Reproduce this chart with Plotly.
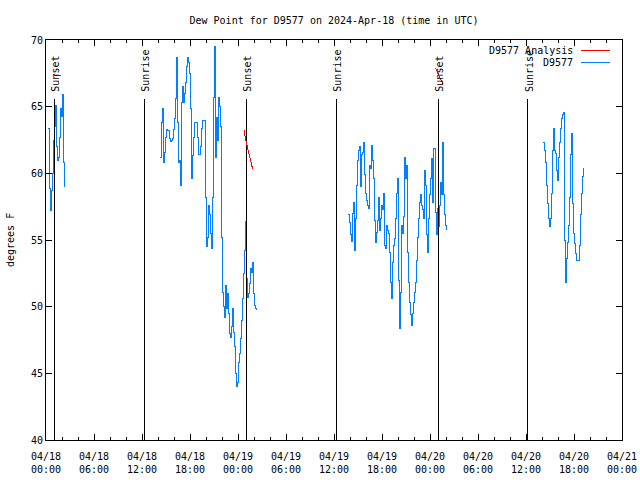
import plotly.graph_objects as go
import pandas as pd

# ---------------- data (one reading every 7.5 minutes) ----------------
STEP = "450s"
c1_start = "2024-04-18 00:15"
c1_vals = [63.4, 58.9, 57.25, 58.75, 60.0, 62.5, 63.5, 65.1, 62.0, 61.0,
           61.2, 62.7, 64.9, 64.3, 65.9, 60.8, 59.0]

c2_start = "2024-04-18 14:15"
c2_vals = [61.2, 63.85, 64.9, 60.85, 61.6, 62.7, 63.3, 63.2, 63.2, 62.6,
           62.4, 62.5, 62.6, 63.3, 64.15, 65.65, 68.7, 63.8, 60.8, 61.0,
           59.1, 65.35, 66.5, 65.35, 66.0, 66.85, 68.0, 68.7, 68.3, 67.5,
           64.9, 59.65, 61.35, 62.7, 63.85, 63.85, 63.85, 62.7, 61.4, 61.4,
           62.0, 63.4, 64.0, 64.0, 64.0, 58.2, 54.5, 55.2, 57.6, 56.9,
           55.5, 54.4, 58.2, 65.7, 69.5, 61.2, 64.2, 62.5, 65.7, 65.0,
           63.5, 55.2, 51.1, 50.0, 49.2, 51.6, 49.9, 51.0, 49.5, 48.0,
           47.7, 48.5, 49.9, 48.1, 47.0, 45.0, 44.0, 44.3, 45.85, 46.5,
           47.6, 49.0, 50.65, 52.5, 54.25, 56.4, 52.1, 50.7, 51.0, 51.75,
           52.9, 52.6, 53.3, 51.0, 50.1, 49.9, 49.75]

c3_start = "2024-04-19 13:45"
c3_vals = [56.9, 56.35, 55.4, 54.9, 57.0, 57.85, 54.25, 56.65, 59.1, 61.0,
           61.75, 62.0, 59.0, 61.4, 61.6, 62.35, 59.9, 58.5, 58.0, 57.6,
           57.4, 60.6, 60.4, 62.1, 61.0, 59.65, 56.5, 54.85, 55.6, 56.5,
           58.2, 55.75, 56.65, 57.6, 57.3, 58.5, 54.6, 54.4, 56.1, 55.75,
           55.5, 54.1, 51.85, 50.65, 53.35, 54.6, 55.15, 56.65, 58.5, 59.65,
           52.0, 48.4, 51.1, 56.1, 55.5, 56.75, 61.2, 59.65, 60.6, 54.1,
           51.85, 50.35, 49.4, 48.6, 49.5, 50.35, 51.1, 51.85, 53.5, 55.2,
           56.65, 57.85, 58.4, 57.6, 57.3, 56.65, 60.25, 59.1, 55.4, 54.1,
           56.65, 58.4, 59.65, 61.15, 57.85, 61.9, 61.9, 57.1, 55.4, 57.4,
           56.0, 57.6, 59.35, 58.4, 62.3, 58.4, 56.9, 56.1, 55.75]

c4_start = "2024-04-20 14:07:30"
c4_vals = [62.35, 61.75, 60.8, 59.1, 57.75, 56.65, 56.0, 56.6, 58.5, 61.75,
           63.4, 61.75, 61.5, 60.25, 59.5, 61.2, 62.35, 63.4, 64.15, 64.4,
           64.6, 55.0, 51.8, 53.65, 54.85, 56.1, 58.2, 61.4, 63.0, 57.75,
           55.5, 54.75, 54.0, 53.5, 53.5, 53.5, 54.6, 56.9, 58.5, 59.75, 60.4]

analysis_times = [["2024-04-18 00:50", "2024-04-18 01:50"],
                  ["2024-04-19 00:45", "2024-04-19 01:00", "2024-04-19 01:50"],
                  ["2024-04-20 00:42", "2024-04-20 01:40"]]
analysis_vals = [[67.4, 67.3], [63.25, 62.4, 60.3], [67.9, 66.6]]

sunset_times = ["2024-04-18 01:00", "2024-04-19 01:00", "2024-04-20 01:00"]
sunrise_times = ["2024-04-18 12:15", "2024-04-19 12:15", "2024-04-20 12:10"]
event_top = 65.6

x_tickvals = ["2024-04-18 00:00", "2024-04-18 06:00", "2024-04-18 12:00", "2024-04-18 18:00",
              "2024-04-19 00:00", "2024-04-19 06:00", "2024-04-19 12:00", "2024-04-19 18:00",
              "2024-04-20 00:00", "2024-04-20 06:00", "2024-04-20 12:00", "2024-04-20 18:00",
              "2024-04-21 00:00"]
x_ticktext = ["04/18<br>00:00", "04/18<br>06:00", "04/18<br>12:00", "04/18<br>18:00",
              "04/19<br>00:00", "04/19<br>06:00", "04/19<br>12:00", "04/19<br>18:00",
              "04/20<br>00:00", "04/20<br>06:00", "04/20<br>12:00", "04/20<br>18:00",
              "04/21<br>00:00"]
y_tickvals = [40, 45, 50, 55, 60, 65, 70]

title_text = "Dew Point for D9577 on 2024-Apr-18 (time in UTC)"
BLUE = "rgb(0,128,255)"
RED = "rgb(255,0,0)"
FONT = "DejaVu Sans Mono"

# ---------------- build ----------------
xs, ys = [], []
for start, vals in [(c1_start, c1_vals), (c2_start, c2_vals),
                    (c3_start, c3_vals), (c4_start, c4_vals)]:
    t = pd.date_range(start, periods=len(vals), freq=STEP)
    xs += list(t) + [None]
    ys += list(vals) + [None]

fig = go.Figure()
fig.add_trace(go.Scatter(x=xs, y=ys, mode="lines", line=dict(color=BLUE, width=1, shape="hv"),
                         connectgaps=False, showlegend=False, hoverinfo="skip"))

# event lines
ex, ey = [], []
for t in sunset_times + sunrise_times:
    ex += [t, t, None]
    ey += [40, event_top, None]
fig.add_trace(go.Scatter(x=ex, y=ey, mode="lines", line=dict(color="black", width=1),
                         showlegend=False, hoverinfo="skip"))

ax, ay = [], []
for tt, vv in zip(analysis_times, analysis_vals):
    ax += tt + [None]
    ay += vv + [None]
fig.add_trace(go.Scatter(x=ax, y=ay, mode="lines", line=dict(color=RED, width=1),
                         showlegend=False, hoverinfo="skip"))

annotations = []
for t in sunset_times:
    annotations.append(dict(x=t, y=event_top, xref="x", yref="y", text="Sunset", textangle=-90,
                            showarrow=False, xanchor="center", yanchor="bottom", xshift=2, yshift=5,
                            font=dict(family=FONT, size=10, color="black")))
for t in sunrise_times:
    annotations.append(dict(x=t, y=event_top, xref="x", yref="y", text="Sunrise", textangle=-90,
                            showarrow=False, xanchor="center", yanchor="bottom", xshift=2, yshift=5,
                            font=dict(family=FONT, size=10, color="black")))

# manual gnuplot-style legend
W, H = 576.0, 400.0
def px(xp): return (xp - 46) / W
def py(yp): return (440 - yp) / H
legend_rows = [("D9577 Analysis", RED, 50), ("D9577", BLUE, 62.5)]
shapes = []
for name, col, yp in legend_rows:
    annotations.append(dict(x=px(575), y=py(yp), xref="paper", yref="paper", text=name,
                            showarrow=False, xanchor="right", yanchor="middle",
                            font=dict(family=FONT, size=10, color="black")))
    shapes.append(dict(type="line", xref="paper", yref="paper", x0=px(581), x1=px(610),
                       y0=py(yp), y1=py(yp), line=dict(color=col, width=1)))

annotations.append(dict(x=px(10), y=0.5, xref="paper", yref="paper", text="degrees F",
                        textangle=-90, showarrow=False, xanchor="center", yanchor="middle",
                        font=dict(family=FONT, size=10, color="black")))

fig.update_layout(
    width=640, height=480,
    margin=dict(l=46, r=18, t=40, b=40, autoexpand=False),
    paper_bgcolor="white", plot_bgcolor="white",
    font=dict(family=FONT, size=10, color="black"),
    title=dict(text=title_text, x=px(334), xref="paper", xanchor="center",
               y=1 - 20 / 480, yanchor="middle", font=dict(family=FONT, size=10)),
    showlegend=False,
    annotations=annotations,
    shapes=shapes,
    xaxis=dict(type="date", range=["2024-04-18 00:00", "2024-04-21 00:00"],
               tickvals=x_tickvals, ticktext=x_ticktext, automargin=False,
               ticks="inside", ticklen=6, tickcolor="black", tickwidth=1, ticklabelstandoff=7,
               minor=dict(ticks="inside", ticklen=3, dtick=2 * 3600 * 1000, tickcolor="black", showgrid=False),
               showline=True, linecolor="black", linewidth=1, mirror="allticks",
               showgrid=False, zeroline=False, tickfont=dict(family=FONT, size=10)),
    yaxis=dict(range=[40, 70], tickvals=y_tickvals, automargin=False,
               ticks="inside", ticklen=6, tickcolor="black", tickwidth=1,
               showline=True, linecolor="black", linewidth=1, mirror="allticks",
               showgrid=False, zeroline=False, tickfont=dict(family=FONT, size=10)),
)

post = (
    "document.body.style.margin='0';document.body.style.padding='0';"
    "var s=document.createElement('style');"
    "s.innerHTML='.scatterlayer path, .shapelayer path {shape-rendering: crispEdges;}';"
    "document.head.appendChild(s);"
)
fig.write_html("out.html", config={"displayModeBar": False}, post_script=post)
